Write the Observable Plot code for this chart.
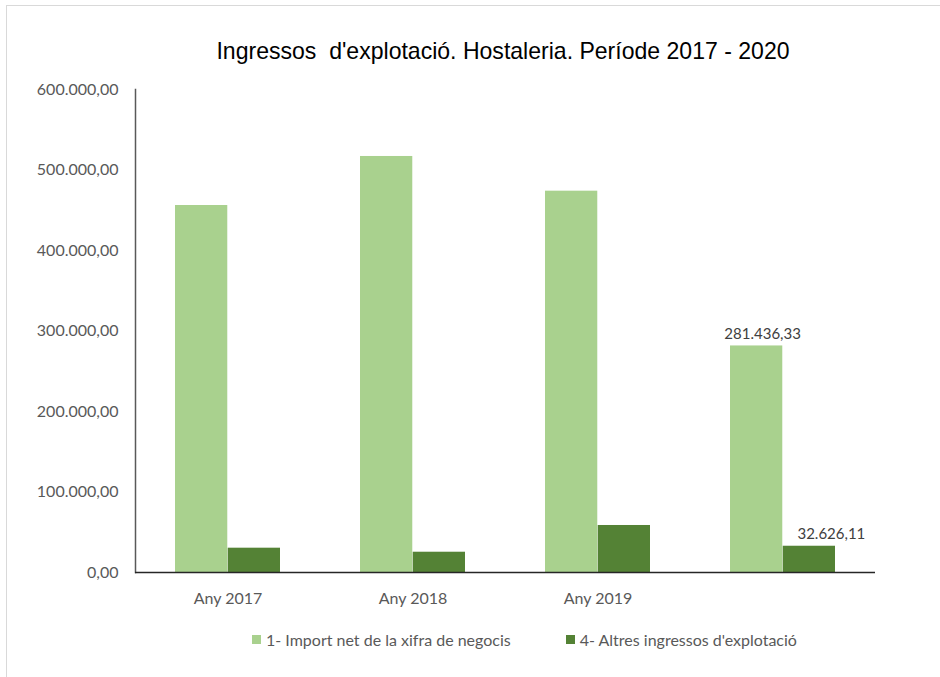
<!DOCTYPE html>
<html>
<head>
<meta charset="utf-8">
<script src="https://cdn.jsdelivr.net/npm/d3@7"></script>
<script src="https://cdn.jsdelivr.net/npm/@observablehq/plot@0.6"></script>
<style>
  body { margin: 0; background: #fff; }
  #wrap { position: relative; width: 940px; height: 677px; overflow: hidden; background: #fff; font-family: Lato, "Open Sans", sans-serif; }
  #border { position: absolute; left: 6px; top: 5px; right: -4px; bottom: -4px; border-left: 1px solid #d9d9d9; border-top: 1px solid #d9d9d9; }
  #title { position: absolute; left: 0; width: 1006px; top: 37px; text-align: center; font-family: "Liberation Sans", Arial, sans-serif; font-size: 24px; color: #000; white-space: pre; transform: scaleX(0.96); transform-origin: 503px 0; }
  #chart { position: absolute; left: 0; top: 60px; }
  #legend { position: absolute; top: 630px; left: 252px; display: flex; align-items: center; font-size: 16px; color: #595959; white-space: pre; }
  .item { display: flex; align-items: center; margin-right: 55px; }
  .sw { width: 9px; height: 9px; margin-right: 5px; }
</style>
</head>
<body>
<div id="wrap">
  <div id="border"></div>
  <div id="title">Ingressos  d'explotació. Hostaleria. Període 2017 - 2020</div>
  <div id="chart"></div>
  <div id="legend"></div>
</div>
<script>
const categories = ["Any 2017", "Any 2018", "Any 2019", "Any 2020"];
const tickLabels = ["Any 2017", "Any 2018", "Any 2019", ""];
const seriesNames = ["1- Import net de la xifra de negocis", "4- Altres ingressos d'explotació"];
const importNet = [455900, 516800, 473700, 281436.33];
const altresIngressos = [30200, 25200, 58400, 32626.11];
const seriesColors = ["#A9D18E", "#548235"];
const yTicks = [0, 100000, 200000, 300000, 400000, 500000, 600000];
const labelledCategories = ["Any 2020"];

const rowsA = categories.map((c, i) => ({cat: c, series: seriesNames[0], value: importNet[i]}));
const rowsB = categories.map((c, i) => ({cat: c, series: seriesNames[1], value: altresIngressos[i]}));

const loc = d3.formatLocale({decimal: ",", thousands: ".", grouping: [3], currency: ["", ""]});
const fmt = loc.format(",.2f");

// layout
const W = 940, H = 560, mL = 135, mR = 65, mT = 29, mB = 48;
const padIn = 0.43, padOut = 0.215;
const step = (W - mL - mR) / (categories.length - padIn + 2 * padOut);
const bandW = step * (1 - padIn);
const half = bandW / 2;

const chart = Plot.plot({
  width: W,
  height: H,
  marginLeft: mL,
  marginRight: mR,
  marginTop: mT,
  marginBottom: mB,
  style: {fontFamily: "Lato, 'Open Sans', sans-serif", fontSize: "16px", color: "#595959", background: "transparent"},
  x: {domain: categories, paddingInner: padIn, paddingOuter: padOut, axis: null, label: null},
  y: {domain: [0, 600000], axis: null, label: null},
  color: {domain: seriesNames, range: seriesColors},
  marks: [
    Plot.barY(rowsA, {x: "cat", y: "value", fill: "series", insetRight: half}),
    Plot.barY(rowsB, {x: "cat", y: "value", fill: "series", insetLeft: half}),
    Plot.text(rowsA.filter(d => labelledCategories.includes(d.cat)), {
      x: "cat", y: "value", text: d => fmt(d.value), dx: -half / 2 + 6, dy: -12, fill: "#404040", fontSize: 15
    }),
    Plot.text(rowsB.filter(d => labelledCategories.includes(d.cat)), {
      x: "cat", y: "value", text: d => fmt(d.value), dx: half / 2 + 22, dy: -12, fill: "#404040", fontSize: 15
    }),
    Plot.axisY({anchor: "left", label: null, ticks: yTicks, tickFormat: fmt, tickSize: 0, tickPadding: 17, fontSize: 16, fill: "#595959"}),
    Plot.axisX({anchor: "bottom", label: null, tickFormat: d => tickLabels[categories.indexOf(d)], tickSize: 0, tickPadding: 20, fontSize: 16, fill: "#595959"}),
    Plot.frame({anchor: "left", stroke: "#595959", strokeWidth: 1.5}),
    Plot.ruleY([0], {stroke: "#262626", strokeWidth: 1.5})
  ]
});
document.getElementById("chart").appendChild(chart);

const legend = document.getElementById("legend");
seriesNames.forEach((s, i) => {
  const it = document.createElement("div");
  it.className = "item";
  const sw = document.createElement("div");
  sw.className = "sw";
  sw.style.background = seriesColors[i];
  const t = document.createElement("span");
  t.textContent = s;
  it.appendChild(sw);
  it.appendChild(t);
  legend.appendChild(it);
});
</script>
</body>
</html>
